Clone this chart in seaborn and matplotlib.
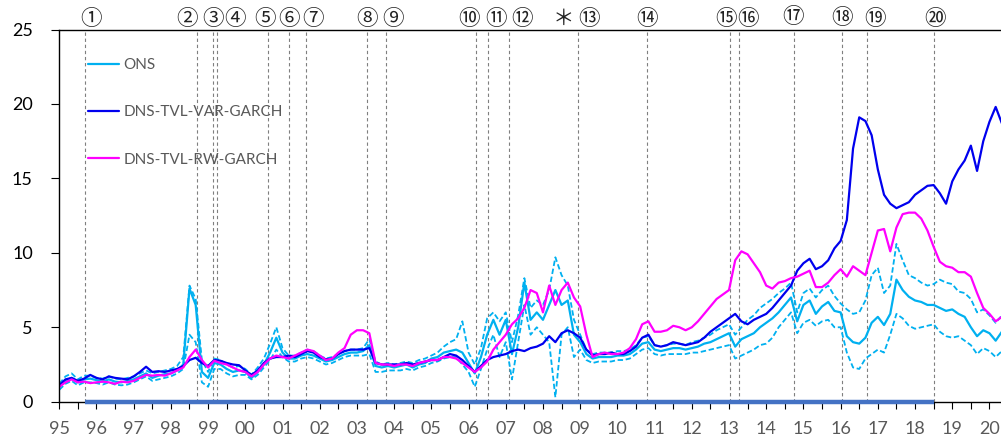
import numpy as np
import matplotlib
matplotlib.use('Agg')
import matplotlib.pyplot as plt
import seaborn as sns

# two-monthly time grid, Jan 1995 onwards
years = 1995 + np.arange(153) / 6

ons = [1.0, 1.4, 1.6, 1.3, 1.5, 1.55,
       1.45, 1.35, 1.5, 1.35, 1.3, 1.4,
       1.5, 1.7, 1.9, 1.6, 1.75, 1.85,
       1.9, 2.1, 2.5, 7.6, 6.5, 2.0,
       1.6, 2.6, 2.5, 2.2, 2.0, 2.1,
       2.0, 1.6, 2.0, 2.5, 3.3, 4.3,
       3.3, 2.9, 2.9, 3.1, 3.2, 3.1,
       2.9, 2.7, 2.8, 3.0, 3.2, 3.3,
       3.3, 3.4, 3.8, 2.4, 2.3, 2.4,
       2.3, 2.4, 2.5, 2.3, 2.5, 2.6,
       2.9, 3.0, 3.3, 3.4, 3.5, 3.3,
       2.6, 1.9, 3.0, 4.5, 5.5, 4.5,
       5.5, 3.2, 5.0, 8.0, 5.5, 6.0,
       5.5, 6.5, 7.5, 6.5, 6.8, 4.5,
       4.0, 3.2, 2.9, 3.0, 3.0, 3.0,
       3.1, 3.1, 3.2, 3.5, 3.9, 4.0,
       3.5, 3.4, 3.5, 3.6, 3.6, 3.5,
       3.6, 3.7, 3.9, 4.0, 4.2, 4.4,
       4.6, 3.7, 4.2, 4.4, 4.6, 5.0,
       5.3, 5.6, 6.0, 6.5, 7.0, 5.4,
       6.5, 6.8, 5.9, 6.4, 6.7, 6.1,
       6.0, 4.4, 4.0, 3.9, 4.3, 5.3,
       5.7, 5.15, 5.9, 8.2, 7.5, 7.05,
       6.8, 6.7, 6.5, 6.5, 6.3, 6.1,
       6.2, 5.9, 5.7, 5.0, 4.4, 4.8,
       4.6, 4.1, 4.7]

ons_upper = [1.2, 1.7, 1.9, 1.5, 1.75, 1.75,
             1.6, 1.55, 1.7, 1.55, 1.5, 1.6,
             1.7, 1.9, 2.1, 1.9, 2.0, 2.1,
             2.2, 2.4, 3.0, 7.8, 6.9, 2.8,
             2.0, 2.9, 2.8, 2.5, 2.3, 2.4,
             2.2, 1.8, 2.3, 2.9, 3.9, 5.0,
             3.6, 3.1, 3.1, 3.3, 3.5, 3.4,
             3.1, 2.9, 3.0, 3.2, 3.4, 3.5,
             3.5, 3.6, 4.2, 2.7, 2.5, 2.6,
             2.5, 2.6, 2.7, 2.6, 2.8, 2.9,
             3.1, 3.3, 3.7, 4.0, 4.2, 5.4,
             3.3, 2.5, 3.6, 5.6, 6.0, 5.4,
             6.0, 4.0, 5.8, 8.3, 6.3, 6.8,
             6.5, 7.5, 9.7, 8.5, 7.8, 5.5,
             4.5, 3.5, 3.2, 3.3, 3.3, 3.3,
             3.4, 3.4, 3.5, 3.8, 4.3, 4.4,
             3.8, 3.7, 3.8, 3.9, 3.9, 3.8,
             4.0, 4.1, 4.3, 4.5, 4.8, 5.0,
             5.2, 4.5, 5.0, 5.5, 5.8, 6.3,
             6.6, 6.9, 7.3, 7.6, 8.0, 6.0,
             7.3, 7.6, 7.0, 7.5, 7.8, 7.1,
             6.6, 6.2, 5.9, 6.0, 6.8, 8.5,
             9.0, 7.3, 7.8, 10.6, 9.5, 8.5,
             8.3, 8.0, 7.8, 7.9, 8.2, 8.0,
             7.9, 7.4, 7.3, 6.9, 6.0, 6.2,
             5.8, 5.3, 5.8]

ons_lower = [0.8, 1.2, 1.4, 1.1, 1.3, 1.3,
             1.25, 1.15, 1.3, 1.15, 1.1, 1.15,
             1.3, 1.5, 1.7, 1.4, 1.5, 1.6,
             1.7, 1.9, 2.2, 4.5, 4.0, 1.3,
             1.0, 2.2, 2.2, 1.9, 1.7, 1.8,
             1.8, 1.5, 1.8, 2.3, 2.8, 3.5,
             3.0, 2.7, 2.7, 2.9, 3.0, 2.9,
             2.7, 2.5, 2.6, 2.8, 3.0, 3.1,
             3.1, 3.1, 3.2, 2.0, 2.0, 2.1,
             2.1, 2.1, 2.2, 2.1, 2.3, 2.4,
             2.6, 2.7, 2.9, 3.0, 3.0, 2.5,
             2.0, 1.0, 2.2, 3.5, 4.5, 3.0,
             4.0, 1.5, 4.0, 6.5, 4.5, 5.0,
             4.5, 4.0, 0.3, 4.5, 5.0, 3.0,
             3.5, 2.8, 2.6, 2.7, 2.7, 2.7,
             2.8, 2.8, 2.9, 3.2, 3.5, 3.6,
             3.2, 3.1, 3.2, 3.2, 3.2, 3.2,
             3.3, 3.3, 3.4, 3.5, 3.6, 3.7,
             3.8, 2.9, 3.1, 3.3, 3.5, 3.8,
             3.9, 4.3, 5.0, 5.5, 6.0, 4.6,
             5.3, 5.5, 5.1, 5.4, 5.5, 5.0,
             5.0, 3.3, 2.3, 2.2, 2.9, 3.2,
             3.5, 3.3, 4.5, 5.9, 5.6, 5.1,
             4.9, 5.0, 5.1, 5.2, 4.7, 4.4,
             4.3, 4.4, 4.1, 3.8, 3.2, 3.6,
             3.4, 3.0, 3.4]

var_garch = [1.1, 1.5, 1.6, 1.4, 1.55, 1.8,
             1.6, 1.5, 1.7, 1.6, 1.55, 1.5,
             1.7, 2.0, 2.35, 2.0, 2.05, 2.0,
             2.1, 2.2, 2.4, 2.8, 2.95, 2.6,
             2.4, 2.8, 2.75, 2.6, 2.5, 2.45,
             2.1, 1.8, 2.1, 2.6, 2.9, 3.0,
             3.0, 3.1, 3.0, 3.2, 3.4, 3.3,
             3.0, 2.85, 2.9, 3.2, 3.4, 3.5,
             3.5, 3.5, 3.6, 2.6, 2.5, 2.5,
             2.5, 2.5, 2.6, 2.5, 2.6, 2.7,
             2.8, 2.8, 3.0, 3.2, 3.1, 2.8,
             2.4, 2.0, 2.4, 2.8, 3.0, 3.1,
             3.2, 3.4, 3.5, 3.4, 3.6, 3.7,
             3.9, 4.4, 4.0, 4.6, 4.8, 4.6,
             4.3, 3.5, 3.1, 3.2, 3.2, 3.3,
             3.2, 3.2, 3.4, 3.7, 4.3, 4.5,
             3.8, 3.7, 3.8, 4.0, 3.9, 3.8,
             3.9, 4.0, 4.3, 4.7, 5.0, 5.3,
             5.6, 5.9, 5.4, 5.2, 5.5, 5.7,
             5.9, 6.3, 6.8, 7.3, 7.8, 8.8,
             9.3, 9.6, 8.9, 9.1, 9.5, 10.3,
             10.8, 12.2, 17.0, 19.1, 18.85, 17.9,
             15.6, 13.9, 13.3, 13.0, 13.2, 13.4,
             13.9, 14.2, 14.5, 14.55, 14.0, 13.3,
             14.8, 15.6, 16.2, 17.2, 15.5, 17.5,
             18.8, 19.8, 18.7]

rw_garch = [1.0, 1.3, 1.5, 1.3, 1.35, 1.25,
            1.3, 1.35, 1.3, 1.2, 1.35, 1.3,
            1.4, 1.6, 1.8, 1.75, 1.8, 1.75,
            1.9, 2.1, 2.3, 3.0, 3.5, 2.8,
            2.3, 2.75, 2.6, 2.5, 2.3, 2.1,
            2.0, 1.7, 2.0, 2.5, 2.9, 3.1,
            3.0, 2.9, 3.1, 3.3, 3.5, 3.4,
            3.1, 2.8, 2.9, 3.3, 3.6, 4.5,
            4.8, 4.8, 4.6, 2.6, 2.5, 2.5,
            2.4, 2.5, 2.5, 2.4, 2.6, 2.7,
            2.8, 2.8, 3.0, 3.0, 2.9, 2.6,
            2.3, 2.0, 2.3, 2.7, 3.5, 4.0,
            4.5, 5.2, 5.6, 6.3, 7.5, 7.3,
            6.0, 7.8, 6.5, 7.5, 8.0, 7.0,
            6.4, 4.5, 3.0, 3.2, 3.3, 3.2,
            3.2, 3.3, 3.6, 4.2, 5.2, 5.4,
            4.7, 4.7, 4.8, 5.1, 5.0, 4.8,
            5.0, 5.4, 5.9, 6.4, 6.9, 7.2,
            7.5, 9.5, 10.1, 9.9, 9.3, 8.7,
            7.8, 7.6, 8.0, 8.1, 8.3, 8.4,
            8.6, 8.8, 7.7, 7.7, 8.0, 8.5,
            8.9, 8.4, 9.1, 8.8, 8.5, 10.0,
            11.5, 11.6, 10.1, 11.7, 12.6, 12.7,
            12.7, 12.3, 11.5, 10.4, 9.4, 9.1,
            9.0, 8.7, 8.7, 8.4, 7.3, 6.3,
            5.9, 5.4, 5.7]

# event dates (dashed lines) and their circled labels
event_years = [1995.70, 1998.71, 1999.12, 1999.25, 2000.60, 2001.18, 2001.62,
               2003.28, 2003.78, 2006.19, 2006.52, 2007.10, 2008.94, 2010.80,
               2013.03, 2013.28, 2014.76, 2016.03, 2016.71, 2018.52]
label_years = [1995.85, 1998.43, 1999.14, 1999.72, 2000.53, 2001.18, 2001.83,
               2003.28, 2003.98, 2006.01, 2006.74, 2007.43, 2008.54, 2009.25,
               2010.79, 2012.91, 2013.52, 2014.73, 2016.03, 2016.92, 2018.54]
label_texts = ['①', '②', '③', '④', '⑤', '⑥', '⑦', '⑧', '⑨', '⑩', '⑪', '⑫',
               '＊', '⑬', '⑭', '⑮', '⑯', '⑰', '⑱', '⑲', '⑳']
label_levels = [25.7] * 17 + [25.85, 25.75, 25.7, 25.7]

period_start, period_end = 1995.70, 2018.52
year_ticks = list(range(1995, 2021))
year_labels = [f'{y % 100:02d}' for y in year_ticks]

sns.set_style('white')
plt.rcParams['font.family'] = ['Lato', 'DejaVu Sans']

fig = plt.figure(figsize=(10.01, 4.43), dpi=100)
ax = fig.add_axes([0.0592, 0.0932, 0.9408, 0.8402])

for yr in event_years:
    ax.axvline(yr, color='#7f7f7f', lw=0.8, ls=(0, (3, 2.5)), zorder=1)

light = '#00b0f0'
sns.lineplot(x=years, y=ons_lower, color=light, lw=1.3, linestyle=(0, (3, 1.5)), ax=ax)
sns.lineplot(x=years, y=ons_upper, color=light, lw=1.3, linestyle=(0, (3, 1.5)), ax=ax)
sns.lineplot(x=years, y=ons, color=light, lw=1.6, label='ONS', ax=ax)
sns.lineplot(x=years, y=var_garch, color='#0000ee', lw=1.6, label='DNS-TVL-VAR-GARCH', ax=ax)
sns.lineplot(x=years, y=rw_garch, color='#ff00ff', lw=1.6, label='DNS-TVL-RW-GARCH', ax=ax)

ax.plot([period_start, period_end], [0, 0], color='#4472c4', lw=3.2,
        solid_capstyle='butt', zorder=6, clip_on=False)

for yr, lv, txt in zip(label_years, label_levels, label_texts):
    ax.text(yr, lv, txt, ha='center', va='center', fontsize=15.5,
            family=['Noto Sans CJK JP'], color='#222222', clip_on=False)

ax.set_xlim(1995, 2020.31)
ax.set_ylim(0, 25)
ax.set_xticks(year_ticks)
ax.set_xticklabels(year_labels)
ax.set_xticks(np.arange(1995.5, 2020.5, 1), minor=True)
ax.set_yticks([0, 5, 10, 15, 20, 25])
ax.tick_params(axis='x', which='both', bottom=True, direction='out', length=5,
               width=0.8, color='black', labelsize=13, labelcolor='#595959', pad=9)
ax.tick_params(axis='y', left=True, direction='out', length=6, width=0.8,
               color='black', labelsize=13, labelcolor='black', pad=13)
ax.set_xlabel('')
ax.set_ylabel('')
for side in ['left', 'top', 'bottom']:
    ax.spines[side].set_color('black')
    ax.spines[side].set_linewidth(1.0)
ax.spines['right'].set_visible(False)

ax.legend(loc='upper left', bbox_to_anchor=(0.0879, 0.869), bbox_transform=fig.transFigure,
          frameon=False, fontsize=11, labelspacing=2.18, handlelength=2.0,
          handletextpad=0.3, borderpad=0, borderaxespad=0, labelcolor='#595959')

fig.savefig('out.png', dpi=100)
